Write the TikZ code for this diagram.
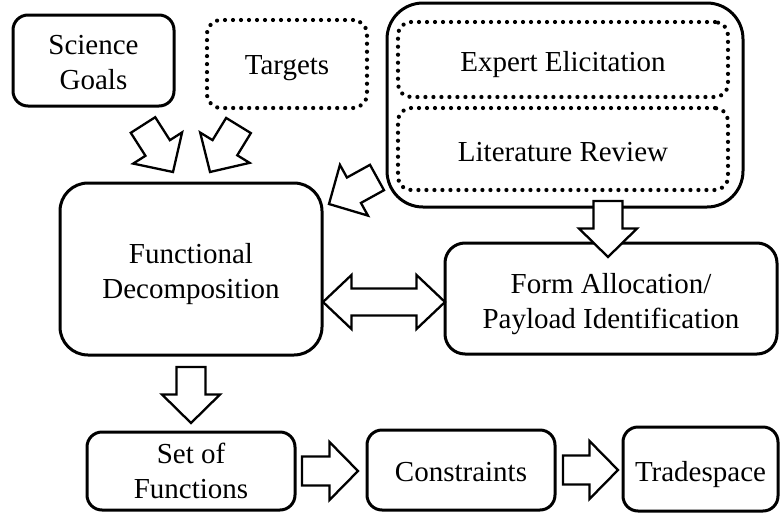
\documentclass[tikz,border=0pt]{standalone}
\usepackage{fontspec}
\setmainfont{Liberation Serif}
\usetikzlibrary{calc}

\tikzset{
  box/.style={draw, line width=3pt, rounded corners=#1, inner sep=0pt, outer sep=0pt,
    align=center, font=\fontsize{29}{35}\selectfont},
  box/.default=15pt,
  dotbox/.style={box=#1, dash pattern=on 0pt off 8pt, line cap=round, line width=4.2pt},
  dotbox/.default=14pt,
  blockarr/.style={draw, fill=white, line width=2.3pt, line join=miter},
}
% invisible strut that lowers the first text line a little
\newcommand\lowr[1]{\rule{0pt}{#1pt}}

% hollow block arrow from #1 (tail) to #2 (tip)
\newcommand\blockarrow[2]{%
  \draw[blockarr]
    ($(#1)!14.5pt!90:(#2)$) --
    ($(#2)!28.5pt!(#1)!14.5pt!-90:(#1)$) --
    ($(#2)!28.5pt!(#1)!29pt!-90:(#1)$) --
    (#2) --
    ($(#2)!28.5pt!(#1)!29pt!90:(#1)$) --
    ($(#2)!28.5pt!(#1)!14.5pt!90:(#1)$) --
    ($(#1)!14.5pt!-90:(#2)$) -- cycle;
}
% hollow double-headed block arrow between #1 and #2
\newcommand\doubleblockarrow[2]{%
  \draw[blockarr]
    (#1) --
    ($(#1)!28.5pt!(#2)!27pt!90:(#2)$) --
    ($(#1)!28.5pt!(#2)!13.5pt!90:(#2)$) --
    ($(#2)!28.5pt!(#1)!13.5pt!-90:(#1)$) --
    ($(#2)!28.5pt!(#1)!27pt!-90:(#1)$) --
    (#2) --
    ($(#2)!28.5pt!(#1)!27pt!90:(#1)$) --
    ($(#2)!28.5pt!(#1)!13.5pt!90:(#1)$) --
    ($(#1)!28.5pt!(#2)!13.5pt!-90:(#2)$) --
    ($(#1)!28.5pt!(#2)!27pt!-90:(#2)$) -- cycle;
}

\begin{document}
\begin{tikzpicture}[x=1pt, y=-1pt]
\useasboundingbox (0,0) rectangle (780,512);

% inputs
\node[box, minimum width=161pt, minimum height=91pt] (sg) at (93.5,60.5) {\lowr{24}Science\\Goals};
\node[dotbox, minimum width=160pt, minimum height=88pt] (tg) at (287,64) {\lowr{28}Targets};

% knowledge sources
\node[box=36pt, minimum width=356pt, minimum height=204pt] (src) at (565,105) {};
\node[dotbox=13pt, minimum width=330pt, minimum height=75pt] (ee) at (563,59.5) {\lowr{30}Expert Elicitation};
\node[dotbox=13pt, minimum width=330pt, minimum height=82pt] (lr) at (563,149) {\lowr{26}Literature Review};

% main process
\node[box=28pt, minimum width=262pt, minimum height=172pt] (fd) at (191,269) {\lowr{30}Functional\\Decomposition};
\node[box=20pt, minimum width=332pt, minimum height=111pt] (fa) at (611,298.5) {\lowr{31}Form Allocation/\\Payload Identification};

% outputs
\node[box, minimum width=208pt, minimum height=78pt] (sf) at (191,471) {Set of\\Functions};
\node[box, minimum width=188pt, minimum height=80pt] (cs) at (461,470) {\lowr{24}Constraints};
\node[box, minimum width=155pt, minimum height=84pt] (ts) at (700.5,469) {\lowr{31}Tradespace};

% arrow end points
\coordinate (a1s) at (143,125);   \coordinate (a1e) at (173,172);
\coordinate (a2s) at (238.5,125.5); \coordinate (a2e) at (210,172);
\coordinate (a3s) at (377,177.5); \coordinate (a3e) at (329,204);
\coordinate (a4s) at (608,201);   \coordinate (a4e) at (608,257);
\coordinate (a5s) at (323,302);   \coordinate (a5e) at (445,302);
\coordinate (a6s) at (191,367);   \coordinate (a6e) at (191,423);
\coordinate (a7s) at (302,471);   \coordinate (a7e) at (358,471);
\coordinate (a8s) at (563,470);   \coordinate (a8e) at (618,470);

\blockarrow{a1s}{a1e}
\blockarrow{a2s}{a2e}
\blockarrow{a3s}{a3e}
\blockarrow{a4s}{a4e}
\doubleblockarrow{a5s}{a5e}
\blockarrow{a6s}{a6e}
\blockarrow{a7s}{a7e}
\blockarrow{a8s}{a8e}
\end{tikzpicture}
\end{document}
